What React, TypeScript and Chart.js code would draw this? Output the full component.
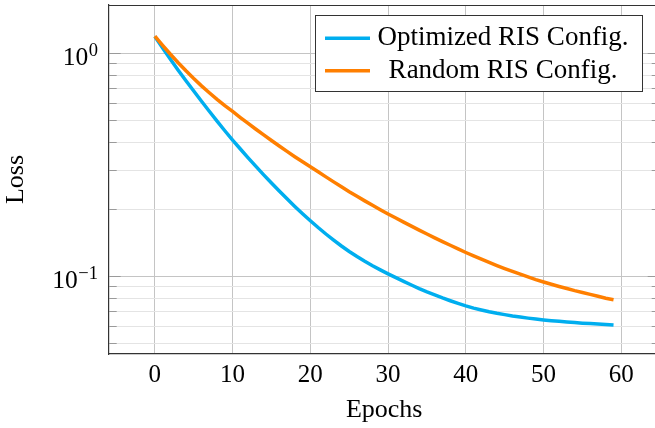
import React, { useEffect, useRef } from "react";
import { Chart, registerables } from "chart.js";

Chart.register(...registerables);

const epochs = [
  0, 1, 2, 3, 4, 5, 6, 7, 8, 9, 10, 11, 12, 13, 14, 15, 16, 17, 18, 19,
  20, 21, 22, 23, 24, 25, 26, 27, 28, 29, 30, 31, 32, 33, 34, 35, 36, 37, 38, 39,
  40, 41, 42, 43, 44, 45, 46, 47, 48, 49, 50, 51, 52, 53, 54, 55, 56, 57, 58, 59,
];

const optimizedLoss = [
  1.194, 1.061, 0.945, 0.844, 0.757, 0.68, 0.612, 0.552, 0.4985, 0.4514,
  0.4102, 0.3738, 0.3413, 0.3123, 0.2863, 0.2631, 0.2422, 0.2235, 0.2067, 0.1917,
  0.1783, 0.1662, 0.1554, 0.1459, 0.1373, 0.1297, 0.1231, 0.1172, 0.112, 0.1073,
  0.103, 0.099, 0.0953, 0.0918, 0.0885, 0.0855, 0.0829, 0.0803, 0.078, 0.0759,
  0.074, 0.0723, 0.0709, 0.0696, 0.0685, 0.0676, 0.0666, 0.0659, 0.0652, 0.0646,
  0.064, 0.0635, 0.0631, 0.0627, 0.0623, 0.0619, 0.0616, 0.0613, 0.0611, 0.0608,
];

const randomLoss = [
  1.2, 1.0906, 0.9948, 0.9113, 0.8383, 0.7742, 0.7178, 0.6687, 0.6244, 0.5851,
  0.551, 0.5174, 0.4869, 0.4585, 0.4324, 0.4081, 0.3855, 0.3646, 0.3452, 0.3275,
  0.3113, 0.2954, 0.2804, 0.2662, 0.253, 0.2405, 0.2293, 0.2188, 0.209, 0.1997,
  0.1911, 0.1832, 0.1757, 0.1686, 0.1618, 0.1554, 0.1494, 0.1437, 0.1384, 0.1332,
  0.1284, 0.124, 0.1198, 0.1159, 0.1122, 0.1088, 0.1056, 0.1026, 0.0998, 0.0971,
  0.0947, 0.0925, 0.0904, 0.0885, 0.0866, 0.085, 0.0833, 0.0817, 0.08, 0.0788,
];

const seriesLabels = ["Optimized RIS Config.", "Random RIS Config."];
const xTickValues = [0, 10, 20, 30, 40, 50, 60];
const yTickValues = [0.05, 0.06, 0.07, 0.08, 0.09, 0.1, 0.2, 0.3, 0.4, 0.5, 0.6, 0.7, 0.8, 0.9, 1];
const yMajorValues = [0.1, 1];
const yMajorExponents = ["−1", "0"];
const xTitle = "Epochs";
const yTitle = "Loss";

const BLUE = "#00AEEF";
const ORANGE = "#FF7F00";
const SERIF = '"Liberation Serif", "Times New Roman", serif';

const decorPlugin = {
  id: "decor",
  beforeDatasetsDraw(chart: any) {
    const { ctx, chartArea: ca, scales } = chart;
    const y = scales.y;
    ctx.save();
    ctx.strokeStyle = "#9a9a9a";
    ctx.lineWidth = 1;
    for (const v of yTickValues) {
      const py = Math.round(y.getPixelForValue(v) - 0.5) + 0.5;
      const len = yMajorValues.includes(v) ? 11.7 : 7.7;
      ctx.beginPath();
      ctx.moveTo(ca.left, py);
      ctx.lineTo(ca.left + len, py);
      ctx.moveTo(ca.right, py);
      ctx.lineTo(ca.right - len, py);
      ctx.stroke();
    }
    ctx.restore();
  },
  afterDraw(chart: any) {
    const { ctx, chartArea: ca, scales } = chart;
    const y = scales.y;
    ctx.save();
    // top border
    ctx.strokeStyle = "#333";
    ctx.lineWidth = 1.2;
    ctx.beginPath();
    ctx.moveTo(ca.left, Math.round(ca.top) + 0.5);
    ctx.lineTo(ca.right, Math.round(ca.top) + 0.5);
    ctx.stroke();

    // y tick labels with superscripts
    ctx.fillStyle = "#000";
    ctx.textBaseline = "alphabetic";
    ctx.textAlign = "right";
    const right = 98;
    yMajorValues.forEach((v, i) => {
      const py = y.getPixelForValue(v);
      const exp = yMajorExponents[i];
      ctx.font = `18.5px ${SERIF}`;
      const ew = ctx.measureText(exp).width;
      ctx.fillText(exp, right, py + 11.3 - 9);
      ctx.font = `25.5px ${SERIF}`;
      ctx.fillText("10", right - ew - 0.5, py + 11.3);
    });

    // legend
    const bx = 315.5, by = 15.5, bw = 327, bh = 76;
    ctx.fillStyle = "#fff";
    ctx.fillRect(bx, by, bw, bh);
    ctx.strokeStyle = "#333";
    ctx.lineWidth = 1;
    ctx.strokeRect(bx, by, bw, bh);
    const rows = [
      { label: seriesLabels[0], color: BLUE, ly: 38.3, ty: 45.3 },
      { label: seriesLabels[1], color: ORANGE, ly: 70.7, ty: 78.2 },
    ];
    ctx.font = `27px ${SERIF}`;
    ctx.textAlign = "center";
    for (const r of rows) {
      ctx.strokeStyle = r.color;
      ctx.lineWidth = 3.5;
      ctx.beginPath();
      ctx.moveTo(325, r.ly);
      ctx.lineTo(370, r.ly);
      ctx.stroke();
      ctx.fillStyle = "#000";
      ctx.fillText(r.label, 503, r.ty);
    }
    ctx.restore();
  },
};

export default function App() {
  const canvasRef = useRef<HTMLCanvasElement | null>(null);

  useEffect(() => {
    const canvas = canvasRef.current;
    if (!canvas) return;
    const chart = new Chart(canvas, {
      type: "line",
      data: {
        datasets: [
          {
            label: seriesLabels[0],
            data: epochs.map((e, i) => ({ x: e, y: optimizedLoss[i] })),
            borderColor: BLUE,
            backgroundColor: BLUE,
            borderWidth: 3.5,
            pointRadius: 0,
            tension: 0,
            order: 1,
          },
          {
            label: seriesLabels[1],
            data: epochs.map((e, i) => ({ x: e, y: randomLoss[i] })),
            borderColor: ORANGE,
            backgroundColor: ORANGE,
            borderWidth: 3.5,
            pointRadius: 0,
            tension: 0,
            order: 0,
          },
        ],
      },
      options: {
        responsive: false,
        animation: false,
        devicePixelRatio: 1,
        layout: { padding: { left: 0, top: 5, right: 10.6, bottom: 0 } },
        plugins: {
          legend: { display: false },
          tooltip: { enabled: false },
        },
        scales: {
          x: {
            type: "linear",
            min: -5.9,
            max: 64.9,
            afterBuildTicks: (scale: any) => {
              scale.ticks = xTickValues.map((v) => ({ value: v }));
            },
            afterFit: (scale: any) => {
              scale.height = 74;
            },
            grid: { color: "#c4c4c4", lineWidth: 1, drawTicks: false },
            border: { display: true, color: "#333", width: 1.2 },
            ticks: {
              color: "#000",
              padding: 6.8,
              maxRotation: 0,
              font: { family: SERIF, size: 25 },
              callback: (v: any) => String(v),
            },
            title: {
              display: true,
              text: xTitle,
              color: "#000",
              font: { family: SERIF, size: 26 },
              padding: { top: 0, bottom: 2.5 },
            },
          },
          y: {
            type: "logarithmic",
            min: 0.04501,
            max: 1.654,
            afterBuildTicks: (scale: any) => {
              scale.ticks = yTickValues.map((v) => ({ value: v, major: yMajorValues.includes(v) }));
            },
            afterFit: (scale: any) => {
              scale.width = 109;
            },
            grid: {
              color: (c: any) =>
                c.tick && yMajorValues.includes(c.tick.value) ? "#c4c4c4" : "#e4e4e4",
              lineWidth: 1,
              drawTicks: false,
            },
            border: { display: true, color: "#333", width: 1.2 },
            ticks: { display: false },
            title: {
              display: true,
              text: yTitle,
              color: "#000",
              font: { family: SERIF, size: 26 },
              padding: { top: 1, bottom: 0 },
            },
          },
        },
      },
      plugins: [decorPlugin],
    } as any);
    return () => chart.destroy();
  }, []);

  return (
    <div
      style={{
        position: "fixed",
        left: 0,
        top: 0,
        width: 655,
        height: 428,
        overflow: "hidden",
        background: "#fff",
      }}
    >
      <canvas ref={canvasRef} width={670} height={428} style={{ display: "block", width: 670, height: 428 }} />
    </div>
  );
}
